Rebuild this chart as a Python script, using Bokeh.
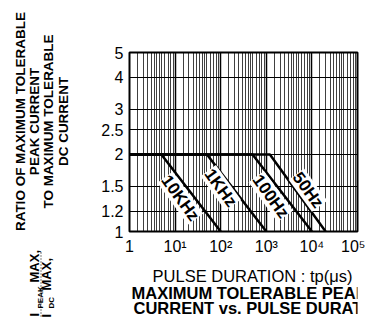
import math
from bokeh.plotting import figure
from bokeh.layouts import row, column
from bokeh.models import FixedTicker, ColumnDataSource, Range1d
from bokeh.core.properties import value
from bokeh.embed import file_html
from bokeh.resources import INLINE

# ---- data ----
freq_labels = ["10KHz", "1KHz", "100Hz", "50Hz"]
pulse_start_us = [1, 1, 1, 1]
break_us = [5, 50, 500, 1200]          # end of the ratio = 2 plateau
end_us = [100, 1000, 10000, 20000]     # where ratio falls to 1
plateau_ratio = [2.0, 2.0, 2.0, 2.0]
floor_ratio = [1.0, 1.0, 1.0, 1.0]
label_x_us = [13, 100, 1250, 8200]
label_y_ratio = [1.35, 1.48, 1.37, 1.45]

x_ticks = [1, 10, 100, 1000, 10000, 100000]
x_tick_labels = ["1", "10\u00b9", "10\u00b2", "10\u00b3", "10\u2074", "10\u2075"]
y_ticks = [1, 1.2, 1.5, 2, 2.5, 3, 4, 5]
y_tick_labels = ["1", "1.2", "1.5", "2", "2.5", "3", "4", "5"]

y_title_lines = ["RATIO OF MAXIMUM TOLERABLE", "PEAK CURRENT",
                 "TO MAXIMUM TOLERABLE", "DC CURRENT"]
x_title = "PULSE DURATION : tp(\u03bcs)"
chart_title_lines = ["MAXIMUM TOLERABLE PEAK", "CURRENT  vs. PULSE DURATION"]

FONT = "Liberation Sans"
WW, HH = 365, 318
LW = 80               # left text strip width
MH = 260              # chart figure height
MW = WW - LW
FL, FR, FT, FB = 129, 357, 52, 231   # chart frame edges on the page


def strip(x0, x1, y0, y1, bl=0, br=0):
    """A bare figure whose frame maps page pixel units."""
    f = figure(width=int(x1 - x0) + bl + br, height=int(y1 - y0),
               frame_width=int(x1 - x0), frame_height=int(y1 - y0),
               x_range=Range1d(x0, x1), y_range=Range1d(y1, y0),
               output_backend="svg", toolbar_location=None, title_location=None,
               x_axis_location=None, y_axis_location=None,
               min_border=0, min_border_left=bl, min_border_right=br,
               min_border_top=0, min_border_bottom=0)
    f.grid.visible = False
    f.outline_line_color = None
    f.background_fill_color = "white"
    f.border_fill_color = "white"
    return f


# ---------------- left strip: rotated axis title ----------------
left = strip(0, LW, 0, HH)
ROT = math.pi / 2
left.text(x=[20, 33.5, 48, 63], y=[121] * 4, text=y_title_lines, angle=ROT,
          text_font=value(FONT), text_font_style="bold", text_font_size="13.5px",
          text_align="center", text_baseline="middle", text_color="black")
left.text(x=[34, 34, 46, 46], y=[316, 282, 317, 290], text=["I", "MAX,", "I", "MAX,"],
          angle=ROT, text_font=value(FONT), text_font_style="bold",
          text_font_size="13px", text_align="left", text_baseline="middle",
          text_color="black")
left.text(x=[39.5, 50.5], y=[308, 308], text=["PEAK", "DC"], angle=ROT,
          text_font=value(FONT), text_font_style="bold", text_font_size="8px",
          text_align="left", text_baseline="middle", text_color="black")
left.segment(x0=[40.5], y0=[252], x1=[40.5], y1=[316], line_color="black",
             line_width=1, line_dash="1 2")

# ---------------- main chart ----------------
p = figure(width=MW, height=MH, frame_width=FR - FL, frame_height=FB - FT,
           x_axis_type="log", y_axis_type="log",
           x_range=(1, 1e5), y_range=(1, 5),
           output_backend="svg", toolbar_location=None, title_location=None,
           min_border_left=FL - LW, min_border_right=WW - FR,
           min_border_top=FT, min_border_bottom=MH - FB)
p.outline_line_color = "black"
p.outline_line_width = 2
p.background_fill_color = "white"
p.border_fill_color = "white"

p.xaxis.ticker = FixedTicker(ticks=x_ticks)
p.xaxis.major_label_overrides = {t: l for t, l in zip(x_ticks, x_tick_labels)}
p.yaxis.ticker = FixedTicker(ticks=y_ticks)
p.yaxis.major_label_overrides = {t: l for t, l in zip(y_ticks, y_tick_labels)}
for ax in (p.xaxis, p.yaxis):
    ax.axis_line_color = None
    ax.major_tick_line_color = None
    ax.minor_tick_line_color = None
    ax.major_tick_out = 0
    ax.major_tick_in = 0
    ax.minor_tick_out = 0
    ax.minor_tick_in = 0
    ax.axis_label_standoff = 0
    ax.major_label_text_font = FONT
    ax.major_label_text_font_size = "16px"
    ax.major_label_text_color = "black"
    ax.major_label_standoff = 6

minors = []
for d in range(5):
    for k in [1.5, 2, 2.5, 3, 3.5, 4, 4.5, 5, 6, 7, 8, 9]:
        minors.append(k * 10 ** d)
p.xgrid.ticker = FixedTicker(ticks=x_ticks, minor_ticks=minors)
p.xgrid.grid_line_color = "black"
p.xgrid.grid_line_width = 1.5
p.xgrid.minor_grid_line_color = "black"
p.xgrid.minor_grid_line_alpha = 0.75
p.xgrid.minor_grid_line_width = 1
p.ygrid.ticker = FixedTicker(ticks=y_ticks)
p.ygrid.grid_line_color = "black"
p.ygrid.grid_line_width = 1

for s, b, e, hi, lo in zip(pulse_start_us, break_us, end_us, plateau_ratio, floor_ratio):
    p.line(x=[s, b, e], y=[hi, hi, lo], line_color="black", line_width=2.5)

src = ColumnDataSource(dict(x=label_x_us, y=label_y_ratio, t=freq_labels))
p.text(x="x", y="y", text="t", source=src, angle=-54 * math.pi / 180,
       text_font=value(FONT), text_font_style="bold", text_font_size="17px",
       text_align="center", text_baseline="middle", text_color="black",
       background_fill_color="white")

# ---------------- bottom strip: x title and chart title ----------------
# same horizontal geometry as the chart so the layout keeps frames aligned
bottom = strip(FL, FR, MH, HH, bl=FL - LW, br=WW - FR)
bottom.text(x=[252], y=[275], text=[x_title], text_font=value(FONT),
            text_font_size="16.5px", text_align="center", text_baseline="alphabetic",
            text_color="black")
bottom.text(x=[131, 133], y=[292, 307], text=chart_title_lines, text_font=value(FONT),
            text_font_style="bold", text_font_size="16.5px", text_align="left",
            text_baseline="alphabetic", text_color="black")

layout = row(left, column(p, bottom, spacing=0), spacing=0)
open("out.html", "w").write(file_html(layout, INLINE))
